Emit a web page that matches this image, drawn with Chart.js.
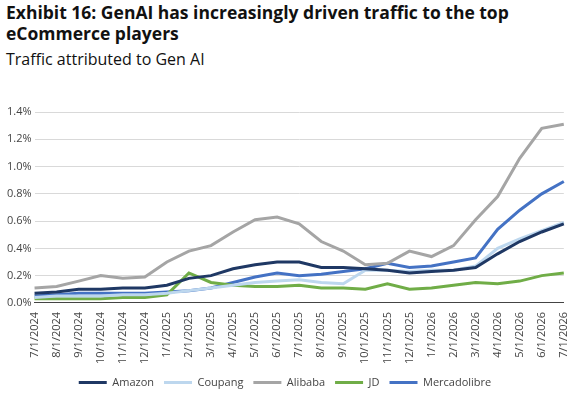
<!DOCTYPE html><html><head><script src="https://cdn.jsdelivr.net/npm/chart.js"></script>
<style>body{margin:0;background:#fff;font-family:"Open Sans",sans-serif}#t{position:absolute;left:6px;top:2px;font-weight:bold;font-size:17.5px;line-height:21px;color:#111}#s{position:absolute;left:6px;top:48px;font-size:16px;color:#111}#w{position:absolute;left:0;top:92px;width:580px;height:306px}</style></head><body>
<div id="t">Exhibit 16: GenAI has increasingly driven traffic to the top<br>eCommerce players</div><div id="s">Traffic attributed to Gen AI</div>
<div id="w"><canvas id="c"></canvas></div>
<script>
const labels=["7/1/2024","8/1/2024","9/1/2024","10/1/2024","11/1/2024","12/1/2024","1/1/2025","2/1/2025","3/1/2025","4/1/2025","5/1/2025","6/1/2025","7/1/2025","8/1/2025","9/1/2025","10/1/2025","11/1/2025","12/1/2025","1/1/2026","2/1/2026","3/1/2026","4/1/2026","5/1/2026","6/1/2026","7/1/2026"];
const amazon=[0.07,0.08,0.10,0.10,0.11,0.11,0.13,0.18,0.20,0.25,0.28,0.30,0.30,0.26,0.26,0.25,0.24,0.22,0.23,0.24,0.26,0.36,0.45,0.52,0.58];
const coupang=[0.04,0.05,0.05,0.05,0.06,0.06,0.07,0.09,0.11,0.13,0.15,0.16,0.17,0.15,0.14,0.24,0.24,0.23,0.24,0.24,0.27,0.40,0.47,0.53,0.59];
const alibaba=[0.11,0.12,0.16,0.20,0.18,0.19,0.30,0.38,0.42,0.52,0.61,0.63,0.58,0.45,0.38,0.28,0.29,0.38,0.34,0.42,0.61,0.78,1.06,1.28,1.31];
const jd=[0.03,0.03,0.03,0.03,0.04,0.04,0.06,0.22,0.15,0.13,0.12,0.12,0.13,0.11,0.11,0.10,0.14,0.10,0.11,0.13,0.15,0.14,0.16,0.20,0.22];
const meli=[0.05,0.06,0.07,0.07,0.07,0.07,0.08,0.09,0.11,0.15,0.19,0.22,0.20,0.21,0.23,0.25,0.29,0.26,0.27,0.30,0.33,0.54,0.68,0.80,0.89];
const ds=(l,d,c)=>({label:l,data:d,borderColor:c,backgroundColor:c,borderWidth:3,pointRadius:0,tension:0});
Chart.defaults.font.family='"Open Sans",sans-serif';Chart.defaults.color='#444';
new Chart(document.getElementById('c'),{type:'line',data:{labels,datasets:[ds('Amazon',amazon,'#1f3864'),ds('Coupang',coupang,'#bdd7ee'),ds('Alibaba',alibaba,'#a5a5a5'),ds('JD',jd,'#70ad47'),ds('Mercadolibre',meli,'#4472c4')]},
options:{responsive:true,maintainAspectRatio:false,animation:false,layout:{padding:{left:4,right:14,top:20}},
plugins:{legend:{position:'bottom',labels:{boxWidth:28,boxHeight:0,font:{size:11},padding:10,generateLabels:ch=>ch.data.datasets.map((d,i)=>({text:d.label,strokeStyle:d.borderColor,fillStyle:d.borderColor,lineWidth:3,datasetIndex:i,fontColor:'#444'}))}}},
scales:{x:{grid:{display:false,drawTicks:true,tickLength:6,color:'#444'},border:{color:'#444'},ticks:{maxRotation:90,minRotation:90,font:{size:11},autoSkip:false}},
y:{min:0,max:1.4,ticks:{stepSize:0.2,font:{size:11},callback:v=>v.toFixed(1)+'%'},grid:{color:'#d9d9d9',drawTicks:false},border:{display:false}}}}});
</script></body></html>
